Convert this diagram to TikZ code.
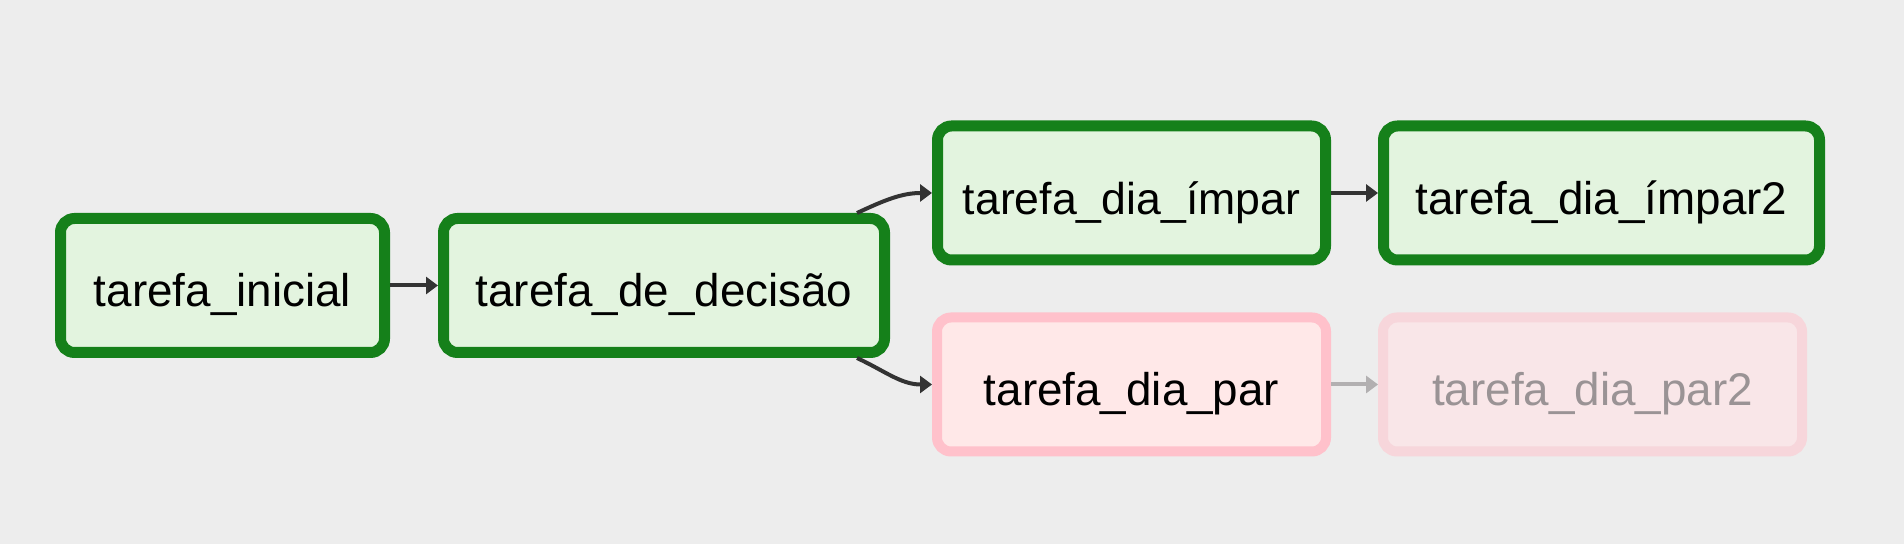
\documentclass[tikz,border=0pt]{standalone}
\usepackage{fontspec}
\setmainfont{Liberation Sans}
\usetikzlibrary{arrows.meta}
\definecolor{bg}{HTML}{EDEDED}
\definecolor{okline}{HTML}{15801A}
\definecolor{okfill}{HTML}{E3F4DF}
\definecolor{skipline}{HTML}{FFC1CB}
\definecolor{skipfill}{HTML}{FFE8E8}
\definecolor{fadeline}{HTML}{F7D6DB}
\definecolor{fadefill}{HTML}{F9E6E8}
\definecolor{fadetext}{HTML}{9A9395}
\definecolor{arrowdark}{HTML}{333333}
\definecolor{arrowgrey}{HTML}{B2B0B1}
\tikzset{
  px/.style={x=0.5pt,y=-0.5pt},
  fs/.style={font=\fontsize{#1}{#1}\selectfont},
  task/.style={rectangle, rounded corners=7pt, line width=5.5pt, minimum height=67pt,
    inner sep=0pt, fs=22.9, text height=21.5pt, text depth=0pt},
  okbox/.style={task, draw=okline, fill=okfill, text=black},
  skipbox/.style={task, draw=skipline, fill=skipfill, text=black, line width=5pt},
  fadebox/.style={task, draw=fadeline, fill=fadefill, text=fadetext, line width=5pt},
  arr/.style={draw=arrowdark, line width=2pt, -{Triangle[length=6pt,width=8.5pt]}},
  farr/.style={draw=arrowgrey, line width=2pt, -{Triangle[length=6pt,width=8.5pt]}},
}
\begin{document}
\begin{tikzpicture}[px]
\fill[bg] (0,0) rectangle (1904,544);
\useasboundingbox (0,0) rectangle (1904,544);
\node[okbox, minimum width=162pt] (ini) at (222.5,285.5) {tarefa\_inicial};
\node[okbox, minimum width=220.5pt] (dec) at (664,285.5) {tarefa\_de\_decisão};
\node[okbox, fs=22.3, minimum width=194pt] (imp) at (1131.5,193) {tarefa\_dia\_ímpar};
\node[skipbox, minimum width=194.5pt] (par) at (1131.5,384.5) {tarefa\_dia\_par};
\node[okbox, minimum width=218pt] (imp2) at (1601.5,193) {tarefa\_dia\_ímpar2};
\node[fadebox, minimum width=209.5pt] (par2) at (1592.5,384.5) {tarefa\_dia\_par2};
\coordinate (dectop) at ([xshift=-16.5pt]dec.north east);
\coordinate (decbot) at ([xshift=-16.5pt]dec.south east);
\draw[arr] (ini.east) -- (dec.west);
\draw[arr] (dectop) to[out=25,in=180] (imp.west);
\draw[arr] (decbot) to[out=-25,in=180] (par.west);
\draw[arr] (imp.east) -- (imp2.west);
\draw[farr] (par.east) -- (par2.west);
\end{tikzpicture}
\end{document}
